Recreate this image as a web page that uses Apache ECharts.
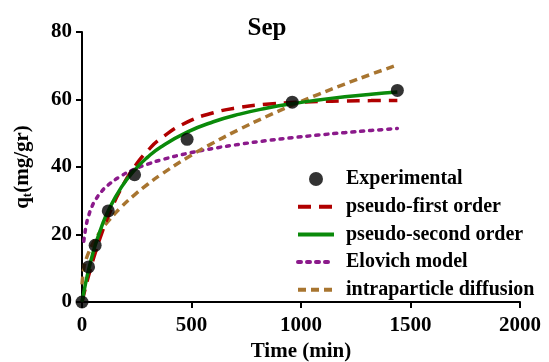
<!DOCTYPE html>
<html><head><meta charset="utf-8">
<script src="https://cdn.jsdelivr.net/npm/echarts@6/dist/echarts.min.js"></script>
<style>html,body{margin:0;padding:0;background:#fff}#c{width:549px;height:362px}</style>
</head><body><div id="c"></div>
<script>
var expTime = [0, 30, 60, 120, 240, 480, 960, 1440];
var expQ = [0, 10.4, 16.8, 27, 37.7, 48.2, 59.2, 62.7];

var modelTime = [0,10,20,30,45,60,90,120,180,240,300,360,480,600,720,840,960,1080,1200,1320,1440];
var pfoQ = [0,2.70,5.28,7.74,11.22,14.48,20.34,25.45,33.76,40.07,44.84,48.46,53.29,56.06,57.65,58.57,59.09,59.39,59.57,59.67,59.72];
var psoQ = [0,3.47,6.62,9.49,13.33,16.72,22.43,27.04,34.04,39.10,42.94,45.94,50.33,53.40,55.66,57.39,58.77,59.88,60.81,61.58,62.24];
var elovichTime = [8,10,20,30,45,60,90,120,180,240,300,360,480,600,720,840,960,1080,1200,1320,1440];
var elovichQ = [18.0,18.9,23.0,25.5,28.2,30.1,32.8,34.7,37.4,39.35,40.85,42.08,44.01,45.51,46.74,47.78,48.68,49.47,50.18,50.82,51.41];
var ipdQ = [5.2,10.62,12.87,14.59,16.70,18.48,21.46,23.98,28.20,31.75,34.89,37.72,42.75,47.18,51.19,54.88,58.31,61.53,64.58,67.47,70.24];

var xTicks = [0, 2000, 500];
var yTicks = [0, 80, 20];

function pairs(xs, ys){ return xs.map(function(x,i){return [x, ys[i]];}); }

var font = '"Liberation Serif", "Times New Roman", serif';
var hideSym = {opacity: 0};
var legLine = {width: 4};
var chart = echarts.init(document.getElementById('c'), null, {renderer:'canvas'});
chart.setOption({
  animation: false,
  backgroundColor: '#fff',
  textStyle: {fontFamily: font},
  title: {text: 'Sep', left: 262, top: 11, textAlign: 'center',
    textStyle: {fontFamily: font, fontWeight: 'bold', fontSize: 25, color: '#000'}},
  grid: {left: 82, right: 29, top: 32, bottom: 60, containLabel: false, outerBoundsMode: 'none'},
  legend: {
    orient: 'vertical', left: 291, top: 164, itemWidth: 36, itemHeight: 14, itemGap: 7.7,
    textStyle: {fontFamily: font, fontWeight: 'bold', fontSize: 20, lineHeight: 20, color: '#000', padding: [0,0,0,7]},
    data: [
      {name: 'Experimental', icon: 'circle', itemStyle: {color: '#000'}},
      {name: 'pseudo-first order', itemStyle: hideSym, lineStyle: legLine},
      {name: 'pseudo-second order', itemStyle: hideSym, lineStyle: legLine},
      {name: 'Elovich model', itemStyle: hideSym, lineStyle: legLine},
      {name: 'intraparticle diffusion', itemStyle: hideSym, lineStyle: legLine}
    ]
  },
  xAxis: {
    type: 'value', min: xTicks[0], max: xTicks[1], interval: xTicks[2],
    name: 'Time (min)', nameLocation: 'middle', nameGap: 39,
    nameTextStyle: {fontFamily: font, fontWeight: 'bold', fontSize: 21, color: '#000'},
    axisLine: {show: true, onZero: false, lineStyle: {color: '#000', width: 2}},
    axisTick: {show: true, length: 6, lineStyle: {color: '#000', width: 2}},
    axisLabel: {fontFamily: font, fontWeight: 'bold', fontSize: 21, color: '#000', margin: 13,
      formatter: function(v){ return String(v); }},
    splitLine: {show: false}
  },
  yAxis: {
    type: 'value', min: yTicks[0], max: yTicks[1], interval: yTicks[2],
    name: '{q|q}{s|t}{q|(mg/gr)}', nameLocation: 'middle', nameGap: 48,
    nameTextStyle: {fontFamily: font, fontWeight: 'bold', fontSize: 21, color: '#000',
      rich: {q: {fontFamily: font, fontWeight: 'bold', fontSize: 21, color: '#000'},
             s: {fontFamily: font, fontWeight: 'bold', fontSize: 13, color: '#000', verticalAlign: 'bottom', padding: [10,0,0,0]}}},
    axisLine: {show: true, lineStyle: {color: '#000', width: 2}},
    axisTick: {show: true, length: 6, lineStyle: {color: '#000', width: 2}},
    axisLabel: {fontFamily: font, fontWeight: 'bold', fontSize: 21, color: '#000', margin: 10,
      formatter: function(v){ return String(v); }},
    splitLine: {show: false}
  },
  series: [
    {name: 'Experimental', type: 'scatter', data: pairs(expTime, expQ), symbol: 'circle', symbolSize: 13,
      itemStyle: {color: '#000'}, z: 10},
    {name: 'pseudo-first order', type: 'line', data: pairs(modelTime, pfoQ), smooth: true, showSymbol: false, symbol: 'none',
      itemStyle: {color: '#B00000'}, lineStyle: {color: '#B00000', width: 3.5, type: [13, 8]}, z: 4},
    {name: 'pseudo-second order', type: 'line', data: pairs(modelTime, psoQ), smooth: true, showSymbol: false, symbol: 'none',
      itemStyle: {color: '#0A8A0A'}, lineStyle: {color: '#0A8A0A', width: 3.5}, z: 5},
    {name: 'Elovich model', type: 'line', data: pairs(elovichTime, elovichQ), smooth: true, showSymbol: false, symbol: 'none',
      itemStyle: {color: '#8B1A8B'}, lineStyle: {color: '#8B1A8B', width: 3.5, type: [3, 6], cap: 'round'}, z: 3},
    {name: 'intraparticle diffusion', type: 'line', data: pairs(modelTime, ipdQ), smooth: true, showSymbol: false, symbol: 'none',
      itemStyle: {color: '#A87530'}, lineStyle: {color: '#A87530', width: 3.5, type: [8, 5]}, z: 3}
  ]
});
</script></body></html>
